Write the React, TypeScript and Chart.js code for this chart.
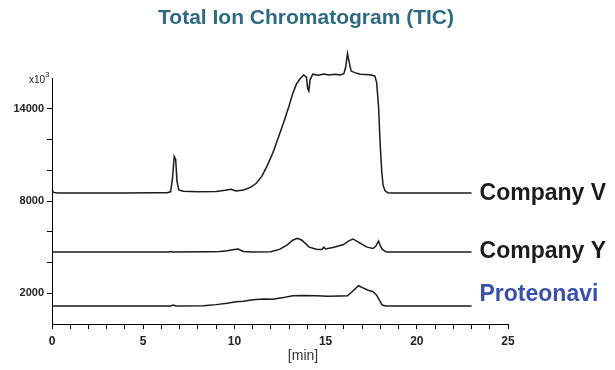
import React, { useEffect, useRef } from "react";
import { Chart, registerables } from "chart.js";

Chart.register(...registerables);

// ---- data (time in minutes, intensity in counts x10^3 axis units) ----
const V_TIME = [0, 0.1, 0.3, 2, 4, 5.5, 6.3, 6.5, 6.6, 6.7, 6.78, 6.85, 6.95, 7.2, 8, 9, 9.5, 9.8, 10.1, 10.5, 10.9, 11.2, 11.5, 11.8, 12.1, 12.4, 12.7, 13.0, 13.2, 13.4, 13.6, 13.8, 13.95, 14.02, 14.08, 14.15, 14.3, 14.6, 14.9, 15.2, 15.5, 15.8, 16.0, 16.1, 16.2, 16.28, 16.4, 16.6, 16.9, 17.2, 17.5, 17.7, 17.8, 17.9, 18.0, 18.08, 18.15, 18.25, 18.4, 18.6, 23];
const V_VALUES = [8700, 8560, 8520, 8520, 8520, 8530, 8540, 8600, 9400, 10900, 10700, 9300, 8720, 8640, 8600, 8620, 8700, 8760, 8650, 8720, 8900, 9150, 9600, 10300, 11100, 12100, 13100, 14200, 15000, 15600, 15950, 16200, 16050, 15300, 15150, 15900, 16250, 16180, 16260, 16200, 16240, 16200, 16280, 16700, 17600, 17100, 16450, 16350, 16250, 16230, 16200, 16120, 15700, 14200, 11500, 9900, 9050, 8680, 8540, 8520, 8520];

const Y_TIME = [0, 6.4, 6.5, 6.6, 8.5, 9.2, 9.6, 10.0, 10.2, 10.5, 11, 12.0, 12.5, 12.9, 13.2, 13.45, 13.7, 14.1, 14.5, 14.8, 14.9, 15.0, 15.4, 15.95, 16.3, 16.5, 16.8, 17.27, 17.6, 17.75, 17.9, 18.0, 18.1, 18.3, 18.4, 23];
const Y_VALUES = [4685, 4685, 4720, 4685, 4700, 4720, 4760, 4850, 4870, 4720, 4690, 4700, 4870, 5150, 5450, 5580, 5450, 5000, 4860, 4850, 5000, 4880, 4980, 5150, 5420, 5530, 5320, 5000, 4910, 5050, 5400, 5100, 4860, 4700, 4685, 4685];

const P_TIME = [0, 6.5, 6.65, 6.8, 8.3, 9.0, 9.6, 10.1, 10.5, 11.0, 11.6, 12.1, 12.6, 13.2, 13.8, 14.5, 15.1, 15.8, 16.2, 16.5, 16.8, 17.05, 17.3, 17.6, 17.8, 18.1, 18.3, 23];
const P_VALUES = [1170, 1170, 1230, 1170, 1190, 1260, 1350, 1450, 1480, 1580, 1630, 1610, 1700, 1840, 1850, 1840, 1800, 1820, 1830, 2150, 2490, 2350, 2210, 2100, 1880, 1230, 1170, 1170];

const SERIES_NAMES = ["Company V", "Company Y", "Proteonavi"];
const SERIES_LABEL_COLORS = ["#1c1c1c", "#1c1c1c", "#3a4fa8"];
const SERIES_LABEL_OFFSETS = [0, -1, -12];

const Y_TICKS = [2000, 4000, 6000, 8000, 10000, 12000, 14000];
const Y_TICK_LABELS = [2000, 8000, 14000];
const X_TICK_LABELS = [0, 5, 10, 15, 20, 25];

const TITLE = "Total Ion Chromatogram (TIC)";
const X_TITLE = "[min]";

const FONT = "'Liberation Sans', Arial, sans-serif";

function pts(t: number[], v: number[]) {
  return t.map((x, i) => ({ x, y: v[i] }));
}

const textPlugin = {
  id: "texts",
  afterDraw(chart: any) {
    const ctx = chart.ctx;
    const xs = chart.scales.x;
    const ys = chart.scales.y;
    ctx.save();
    // title
    ctx.fillStyle = "#2f6b80";
    ctx.font = `bold 21px ${FONT}`;
    ctx.textAlign = "center";
    ctx.textBaseline = "middle";
    ctx.fillText(TITLE, 306, 18);

    // series labels
    ctx.font = `bold 23px ${FONT}`;
    ctx.textAlign = "left";
    chart.data.datasets.forEach((ds: any, i: number) => {
      const last = ds.data[ds.data.length - 1];
      const px = xs.getPixelForValue(last.x) + 8;
      const py = ys.getPixelForValue(last.y) + SERIES_LABEL_OFFSETS[i];
      ctx.fillStyle = SERIES_LABEL_COLORS[i];
      ctx.fillText(SERIES_NAMES[i], px, py + 1);
    });

    // x10^3
    ctx.fillStyle = "#222";
    ctx.font = `10px ${FONT}`;
    ctx.textAlign = "right";
    ctx.textBaseline = "alphabetic";
    ctx.fillText("x10", 45, 83);
    ctx.font = `8px ${FONT}`;
    ctx.textAlign = "left";
    ctx.fillText("3", 45, 77);

    // x title
    ctx.fillStyle = "#333";
    ctx.font = `14px ${FONT}`;
    ctx.textAlign = "center";
    ctx.textBaseline = "middle";
    ctx.fillText(X_TITLE, 303, 356);
    ctx.restore();
  },
};

export default function App() {
  const ref = useRef<HTMLCanvasElement>(null);
  useEffect(() => {
    if (!ref.current) return;
    const lineStyle = {
      borderColor: "#1a1a1a",
      borderWidth: 1.5,
      pointRadius: 0,
      tension: 0,
      fill: false,
      clip: false as any,
    };
    const chart = new Chart(ref.current, {
      type: "line",
      data: {
        datasets: [
          { label: SERIES_NAMES[0], data: pts(V_TIME, V_VALUES), ...lineStyle },
          { label: SERIES_NAMES[1], data: pts(Y_TIME, Y_VALUES), ...lineStyle },
          { label: SERIES_NAMES[2], data: pts(P_TIME, P_VALUES), ...lineStyle },
        ],
      },
      options: {
        animation: false,
        responsive: false,
        events: [],
        layout: { padding: { left: 0, right: 107, top: 78, bottom: 0 } },
        plugins: { legend: { display: false }, tooltip: { enabled: false }, title: { display: false } },
        scales: {
          x: {
            type: "linear",
            min: 0,
            max: 25,
            afterFit: (s: any) => { s.height = 46; },
            afterBuildTicks: (s: any) => {
              const arr = [];
              for (let i = 0; i <= 25; i++) arr.push({ value: i });
              s.ticks = arr;
            },
            ticks: {
              autoSkip: false,
              maxRotation: 0,
              padding: 5,
              color: "#222",
              font: { family: FONT, size: 12, weight: "bold" },
              callback: (v: any) => (X_TICK_LABELS.includes(v) ? String(v) : ""),
            },
            grid: { display: true, drawOnChartArea: false, drawTicks: true, tickLength: 5, color: "#000", lineWidth: 1 },
            border: { display: true, color: "#000", width: 1 },
          },
          y: {
            type: "linear",
            min: 0,
            max: 16000,
            afterFit: (s: any) => { s.width = 52; },
            afterBuildTicks: (s: any) => {
              s.ticks = Y_TICKS.map((v) => ({ value: v }));
            },
            ticks: {
              autoSkip: false,
              padding: 3,
              color: "#222",
              font: { family: FONT, size: 11, weight: "bold" },
              callback: (v: any) => (Y_TICK_LABELS.includes(v) ? String(v) : ""),
            },
            grid: { display: true, drawOnChartArea: false, drawTicks: true, tickLength: 5, color: "#000", lineWidth: 1 },
            border: { display: true, color: "#000", width: 1 },
          },
        },
      },
      plugins: [textPlugin],
    });
    return () => chart.destroy();
  }, []);
  return (
    <div style={{ position: "fixed", left: 0, top: 0, width: 615, height: 370, background: "#fff" }}>
      <canvas ref={ref} width={615} height={370} />
    </div>
  );
}
